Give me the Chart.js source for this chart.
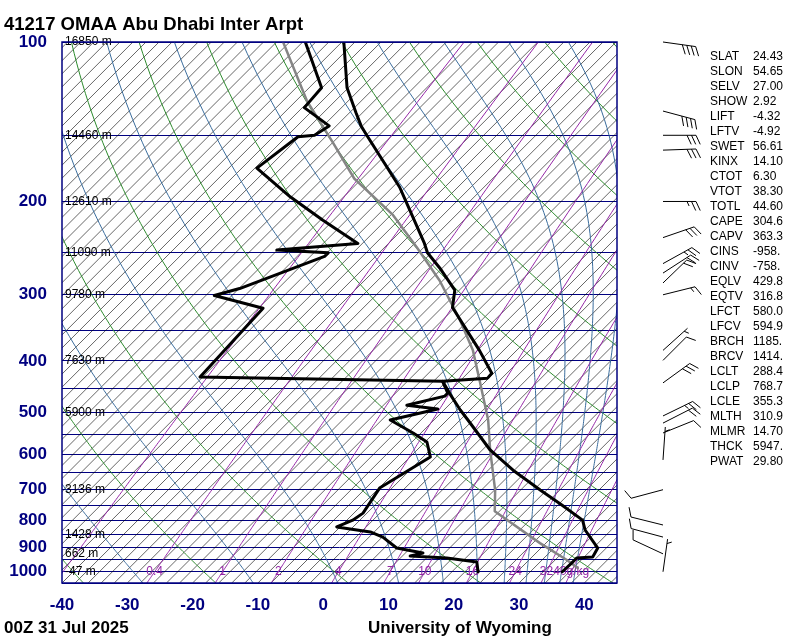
<!DOCTYPE html>
<html><head><meta charset="utf-8">
<script src="https://cdn.jsdelivr.net/npm/chart.js@4.4.1/dist/chart.umd.min.js"></script>
<style>html,body{margin:0;padding:0;background:#fff;}canvas{display:block;}</style>
</head><body>
<canvas id="c" width="800" height="640"></canvas>
<script>
// ---------- data ----------
const titleText = "41217 OMAA Abu Dhabi Inter Arpt";
const dateText = "00Z 31 Jul 2025";
const sourceText = "University of Wyoming";

const pressureLabels = [100,200,300,400,500,600,700,800,900,1000];
const isobars = [100,150,200,250,300,350,400,450,500,550,600,650,700,750,800,850,900,950,1000,1050];
const tempTicks = [-40,-30,-20,-10,0,10,20,30,40];

const heightP = [100,150,200,250,300,400,500,700,850,925,1000];
const heightText = ["16850 m","14460 m","12610 m","11090 m","9780 m","7630 m","5900 m","3136 m","1428 m","662 m","-47 m"];

const mixRatios = [0.1,0.4,1,2,4,7,10,16,24,32,40];
const mixText = ["","0.4","1","2","4","7","10","16","24","32","40g/kg"];

const dryAdiabatsC = [-40,-20,0,20,40,60,80,100,120,140,160,180];
const moistAdiabatsC = [-30,-10,10,30,50,70,90,110,130,150,170];

const tempP = [100,122,136,144,150,188,201,240,250,267,294,317,382,422,431,437,462,495,517,589,643,701,748,799,834,902,938,942,963,1000];
const tempT = [-79.7,-72.2,-67.0,-64.2,-61.9,-48.9,-45.5,-36.5,-34.6,-30.4,-24.7,-22.4,-11.7,-6.3,-6.2,-12.6,-9.5,-5.5,-2.8,5.2,11.8,19.0,24.6,30.1,32.0,36.7,37.3,35.0,35.0,34.9];

const dewP = [100,122,133,144,150,151,173,196,217,240,247,250,254,292,301,318,429,437,460,466,485,493,517,547,569,607,695,775,799,823,841,860,902,922,934,942,958,1000];
const dewT = [-85.6,-76.1,-75.7,-69.1,-69.9,-72.2,-73.7,-64.2,-55.6,-46.7,-58.1,-49.8,-49.8,-57.9,-60.7,-51.3,-50.4,-12.6,-10.0,-10.0,-14.4,-9.1,-14.7,-9.2,-5.7,-2.9,-5.9,-4.6,-5.1,-6.5,-0.6,2.1,5.9,10.7,9.2,15.1,20.3,22.0];

const parcelP = [100,129,155,181,212,244,282,335,382,435,517,589,701,769,883,950,984];
const parcelT = [-89.0,-76.4,-65.9,-57.2,-45.7,-37.1,-28.5,-19.3,-12.7,-7.1,0.3,5.2,12.1,15.3,27.1,33.8,36.7];

const windP = [100,135,150,160,200,234,262,273,285,300,382,399,440,508,524,547,615,700,816,860,925,1000];
const windDir = [98,105,90,88,90,71,61,57,46,76,48,45,54,64,63,68,4,255,284,285,295,8];
const windSpd = [40,40,30,30,25,30,25,20,20,15,5,10,30,25,20,10,5,10,10,10,10,5];

const indexNames = ["SLAT","SLON","SELV","SHOW","LIFT","LFTV","SWET","KINX","CTOT","VTOT","TOTL","CAPE","CAPV","CINS","CINV","EQLV","EQTV","LFCT","LFCV","BRCH","BRCV","LCLT","LCLP","LCLE","MLTH","MLMR","THCK","PWAT"];
const indexValues = ["24.43","54.65","27.00","2.92","-4.32","-4.92","56.61","14.10","6.30","38.30","44.60","304.6","363.3","-958.","-758.","429.8","316.8","580.0","594.9","1185.","1414.","288.4","768.7","355.3","310.9","14.70","5947.","29.80"];

// ---------- skew-T geometry ----------
const P_BOTTOM = 1050, P_TOP = 100;
const SKEW = 35.24; // deg C per unit ln(p) that makes isotherms 45 degrees
function skewX(T, p) { return T + SKEW * Math.log(P_BOTTOM / p); }
function satVap(Tc) { return 6.112 * Math.exp(17.67 * Tc / (Tc + 243.5)); }
function thetaE(Tk, p) {
  const es = satVap(Tk - 273.15);
  if (es > p * 0.3) return 1e6;
  const r = 622 * es / (p - es);
  return Tk * Math.pow(1000 / p, 0.2854 * (1 - 0.00028 * r)) * Math.exp((3.376 / Tk - 0.00254) * r * (1 + 0.00081 * r));
}
function moistT(te, p) {
  let lo = 140, hi = 345;
  for (let i = 0; i < 50; i++) { const m = (lo + hi) / 2; if (thetaE(m, p) > te) hi = m; else lo = m; }
  return (lo + hi) / 2 - 273.15;
}
function mixT(w, p) { const e = w * p / (622 + w); const l = Math.log(e / 6.112); return 243.5 * l / (17.67 - l); }
const curveP = []; for (let p = P_BOTTOM; p >= P_TOP; p -= 5) curveP.push(p);

function toPts(P, T) { return P.map((p, i) => ({ x: skewX(T[i], p), y: p })); }

function strokeTP(ctx, xs, ys, pts) {
  ctx.beginPath();
  pts.forEach(([T, p], i) => {
    const X = xs.getPixelForValue(skewX(T, p)), Y = ys.getPixelForValue(p);
    if (i) ctx.lineTo(X, Y); else ctx.moveTo(X, Y);
  });
  ctx.stroke();
}

function drawBarb(ctx, x0, y0, dir, spd) {
  const L = 33, r = dir * Math.PI / 180, dx = Math.sin(r), dy = -Math.cos(r);
  const tx = x0 + L * dx, ty = y0 + L * dy;
  const a = 65 * Math.PI / 180;
  const fx = dx * Math.cos(a) - dy * Math.sin(a), fy = dx * Math.sin(a) + dy * Math.cos(a);
  ctx.beginPath(); ctx.moveTo(x0, y0); ctx.lineTo(tx, ty);
  let s = Math.round(spd / 5) * 5, pos = 0;
  while (s >= 10) {
    const bx = tx - pos * dx, by = ty - pos * dy;
    ctx.moveTo(bx, by); ctx.lineTo(bx + 10 * fx, by + 10 * fy);
    s -= 10; pos += 4.5;
  }
  if (s >= 5) {
    if (pos === 0) pos = 4.5;
    const bx = tx - pos * dx, by = ty - pos * dy;
    ctx.moveTo(bx, by); ctx.lineTo(bx + 5 * fx, by + 5 * fy);
  }
  ctx.stroke();
}

const NAVY = '#000080';
const FONT = "'Liberation Sans', Arial, Helvetica, sans-serif";

const skewPlugin = {
  id: 'skewt',
  beforeDatasetsDraw(chart) {
    const { ctx, chartArea: a, scales: { x: xs, y: ys } } = chart;
    ctx.save();
    ctx.beginPath(); ctx.rect(a.left, a.top, a.right - a.left, a.bottom - a.top); ctx.clip();
    // isotherms every 2 C
    ctx.lineWidth = 0.75; ctx.strokeStyle = 'rgba(0,0,0,0.8)';
    for (let T = -124; T <= 44; T += 2) strokeTP(ctx, xs, ys, [[T, P_BOTTOM], [T, P_TOP]]);
    ctx.lineWidth = 1;
    // dry adiabats
    ctx.strokeStyle = '#2d8a2d';
    dryAdiabatsC.forEach(th => strokeTP(ctx, xs, ys, curveP.map(p => [(th + 273.15) * Math.pow(p / 1000, 0.286) - 273.15, p])));
    // moist adiabats
    ctx.strokeStyle = '#3a6c9c';
    moistAdiabatsC.forEach(te => strokeTP(ctx, xs, ys, curveP.map(p => [moistT(te + 273.15, p), p])));
    // mixing ratio lines
    ctx.strokeStyle = '#9426a6';
    mixRatios.forEach(w => strokeTP(ctx, xs, ys, curveP.map(p => [mixT(w, p), p])));
    ctx.restore();

    // height labels
    ctx.save();
    ctx.font = '12px ' + FONT; ctx.fillStyle = '#000'; ctx.textBaseline = 'middle'; ctx.textAlign = 'left';
    heightP.forEach((p, i) => ctx.fillText(heightText[i], a.left + 3, ys.getPixelForValue(p)));
    // mixing ratio labels at 1000 hPa
    ctx.fillStyle = '#9426a6'; ctx.textAlign = 'center';
    mixRatios.forEach((w, i) => {
      if (!mixText[i]) return;
      ctx.fillText(mixText[i], xs.getPixelForValue(skewX(mixT(w, 1000), 1000)), ys.getPixelForValue(1000));
    });
    ctx.restore();
  },
  afterDraw(chart) {
    const { ctx, chartArea: a, scales: { y: ys } } = chart;
    ctx.save();
    // frame
    ctx.strokeStyle = NAVY; ctx.lineWidth = 1.5;
    ctx.strokeRect(a.left, a.top, a.right - a.left, a.bottom - a.top);
    // titles
    ctx.fillStyle = '#000'; ctx.textBaseline = 'alphabetic'; ctx.textAlign = 'left';
    ctx.font = 'bold 18.5px ' + FONT; ctx.fillText(titleText, 4, 30);
    ctx.font = 'bold 17px ' + FONT; ctx.fillText(dateText, 4, 633);
    ctx.fillText(sourceText, 368, 633);
    // indices table
    ctx.font = '12px ' + FONT; ctx.textBaseline = 'middle';
    indexNames.forEach((n, i) => {
      const y = 57 + 15 * i;
      ctx.fillText(n, 710, y);
      ctx.fillText(indexValues[i], 753, y);
    });
    // wind barbs
    ctx.strokeStyle = '#000'; ctx.lineWidth = 1;
    const bx = a.right + 46;
    windP.forEach((p, i) => drawBarb(ctx, bx, ys.getPixelForValue(p), windDir[i], windSpd[i]));
    ctx.restore();
  }
};

const lineStyle = { showLine: true, pointRadius: 0, borderJoinStyle: 'round', borderCapStyle: 'round', fill: false };

new Chart(document.getElementById('c'), {
  type: 'scatter',
  data: {
    datasets: [
      Object.assign({ label: 'Temperature', data: toPts(tempP, tempT), borderColor: '#000', borderWidth: 3, order: 0 }, lineStyle),
      Object.assign({ label: 'Dewpoint', data: toPts(dewP, dewT), borderColor: '#000', borderWidth: 3, order: 1 }, lineStyle),
      Object.assign({ label: 'Parcel', data: toPts(parcelP, parcelT), borderColor: '#858585', borderWidth: 2.5, order: 2 }, lineStyle)
    ]
  },
  options: {
    responsive: false, animation: false, devicePixelRatio: 1,
    layout: { padding: { left: 0, right: 183, top: 42, bottom: 0 } },
    plugins: { legend: { display: false }, tooltip: { enabled: false }, title: { display: false } },
    scales: {
      x: {
        type: 'linear', min: -40, max: 45,
        grid: { display: false }, border: { display: false },
        afterBuildTicks: s => { s.ticks = tempTicks.map(v => ({ value: v })); },
        afterFit: s => { s.height = 57; },
        ticks: { color: NAVY, padding: 4, autoSkip: false, maxRotation: 0, font: { family: FONT, size: 17, weight: 'bold' } }
      },
      y: {
        type: 'logarithmic', reverse: true, min: P_TOP, max: P_BOTTOM,
        grid: { color: NAVY, lineWidth: 1, drawTicks: false }, border: { display: false },
        afterBuildTicks: s => { s.ticks = isobars.map(v => ({ value: v })); },
        afterFit: s => { s.width = 62; },
        ticks: {
          color: NAVY, padding: 15, autoSkip: false,
          font: { family: FONT, size: 17, weight: 'bold' },
          callback: v => pressureLabels.includes(v) ? String(v) : ''
        }
      }
    }
  },
  plugins: [skewPlugin]
});
</script>
</body></html>
